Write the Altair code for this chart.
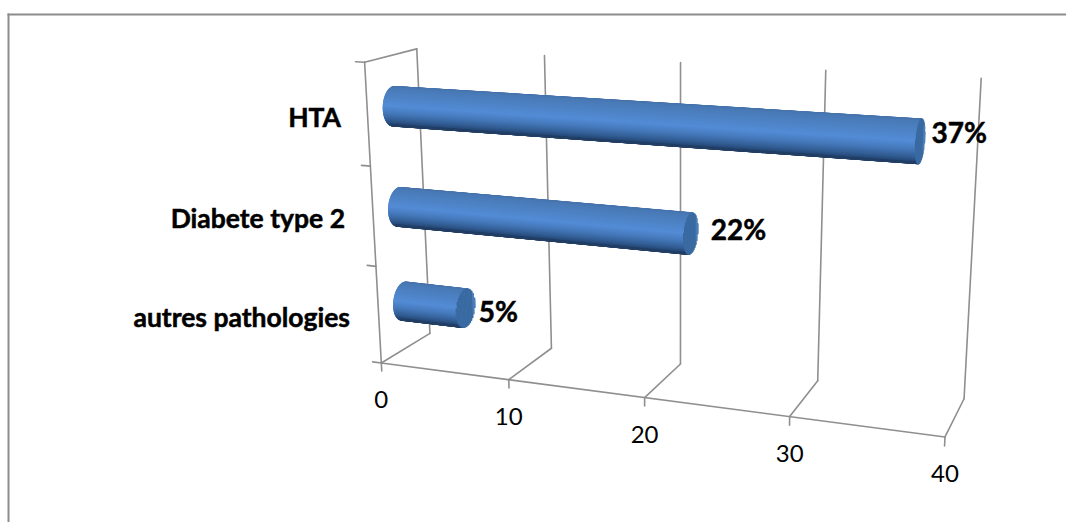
import altair as alt
import numpy as np
import pandas as pd

# Chart values
categories = ["HTA", "Diabete type 2", "autres pathologies"]
values = [37, 22, 5]
value_labels = ["37%", "22%", "5%"]
axis_ticks = [0, 10, 20, 30, 40]

WIDTH, HEIGHT = 1066, 522
FONT = "Lato"
GRID = "#8f8f8f"

# Camera calibration: box corners (value, depth, height) and their place on the page
camera_world = [
    (0, 0, 0), (10, 0, 0), (20, 0, 0), (30, 0, 0), (40, 0, 0),
    (0, 1, 0), (10, 1, 0), (20, 1, 0), (30, 1, 0), (40, 1, 0),
    (0, 1, 1), (10, 1, 1), (40, 1, 1), (0, 0, 1),
]
camera_page = [
    (381, 363), (509, 379), (645, 398), (790, 416), (945, 437),
    (430, 333), (551, 348), (681, 365), (817, 381), (964, 399),
    (417, 49), (545, 55), (981, 78), (364, 63),
]


def fit_camera(world, page):
    rows = []
    for (a, b, c), (u, v) in zip(world, page):
        rows.append([a, b, c, 1, 0, 0, 0, 0, -u * a, -u * b, -u * c, -u])
        rows.append([0, 0, 0, 0, a, b, c, 1, -v * a, -v * b, -v * c, -v])
    return np.linalg.svd(np.array(rows, float))[2][-1].reshape(3, 4)


CAM = fit_camera(camera_world, camera_page)


def project(v, d, h):
    p = CAM @ np.array([v, d, h, 1.0])
    return p[0] / p[2], p[1] / p[2]


def seg(v0, d0, h0, v1, d1, h1, color=GRID):
    x, y = project(v0, d0, h0)
    x2, y2 = project(v1, d1, h1)
    return {"x": x, "y": y, "x2": x2, "y2": y2, "color": color}


# Walls, floor and ticks of the 3D box
grid = [seg(0, 0, 0, 40, 0, 0), seg(0, 0, 0, 0, 0, 1), seg(0, 0, 1, 0, 1, 1)]
for t in axis_ticks:
    grid.append(seg(t, 0, 0, t, 1, 0))
    grid.append(seg(t, 1, 0, t, 1, 1))
    grid.append(seg(t, 0, 0, t, 0, -0.028))
for k in range(4):
    grid.append(seg(0, 0, k / 3, -0.7, 0, k / 3))
grid_df = pd.DataFrame(grid)

# Shading across the cylinder, by position between its upper and lower silhouette
shade_pos = [0.0, 0.05, 0.2, 0.5, 0.68, 0.84, 0.96, 1.0]
shade_rgb = [
    (70, 114, 170), (74, 122, 182), (76, 128, 192), (84, 140, 214),
    (70, 122, 188), (54, 98, 154), (40, 76, 124), (34, 62, 100),
]


def shade(t):
    rgb = [np.interp(t, shade_pos, [c[i] for c in shade_rgb]) for i in range(3)]
    return "#%02x%02x%02x" % tuple(int(round(c)) for c in rgb)


bar_heights = [5 / 6, 0.495, 1 / 6]
DEPTH_C, DEPTH_R, HEIGHT_R = 0.5, 0.2, 0.063
STRIPS = 90

strips, cap = [], []
for val, h0 in zip(values, bar_heights):
    # silhouette angle on the screen, measured at mid-length
    v_mid = val / 2
    xa, ya = project(v_mid, DEPTH_C + DEPTH_R, h0)
    xb, yb = project(v_mid, DEPTH_C, h0 + HEIGHT_R)
    xc, yc = project(v_mid, DEPTH_C, h0)
    alpha = np.arctan2(yc - yb, yc - ya)
    angles = np.linspace(alpha, alpha + np.pi, STRIPS)
    for i, th in enumerate(angles):
        d = DEPTH_C + DEPTH_R * np.cos(th)
        h = h0 + HEIGHT_R * np.sin(th)
        across = (1 - np.cos(np.pi * i / (STRIPS - 1))) / 2
        strips.append(seg(0, d, h, val, d, h, shade(across)))
    # End cap as a fan of chords in the height direction
    for c in np.linspace(-0.97, 0.97, 15):
        d = DEPTH_C + DEPTH_R * c
        dh = HEIGHT_R * np.sqrt(1 - c ** 2)
        col = "#4a7cb6" if c > 0.8 else "#3a6aa2"
        cap.append(seg(val, d, h0 - dh, val, d, h0 + dh, col))
bars_df = pd.DataFrame(strips + cap)

# Value labels next to the caps; nudges in pixels
label_nudge = [(7, 6), (13, 11), (4, 19)]
value_rows = []
for val, txt, h0, (dx, dy) in zip(values, value_labels, bar_heights, label_nudge):
    x, y = project(val, DEPTH_C + DEPTH_R, h0)
    value_rows.append({"x": x + dx, "y": y + dy, "text": txt})
value_df = pd.DataFrame(value_rows)

# Category labels sit left of the wall: right edge and baseline in pixels
cat_right = [341, 345, 350]
cat_base = [127, 228, 327]
cat_df = pd.DataFrame({"x": cat_right, "y": cat_base, "text": categories})

tick_rows = []
for t in axis_ticks:
    x, y = project(t, 0, 0)
    tick_rows.append({"x": x, "y": y + 45, "text": str(t)})
tick_df = pd.DataFrame(tick_rows)

# Only the top and left edges of the outer frame show on the page
frame_corners = [(1066, 14.5), (8.5, 14.5), (8.5, 522)]
frame_df = pd.DataFrame([
    {"x": a[0], "y": a[1], "x2": b[0], "y2": b[1], "color": "#8c8c8c"}
    for a, b in zip(frame_corners, frame_corners[1:])
])

xs = alt.X("x:Q", scale=alt.Scale(domain=[0, WIDTH], nice=False, zero=False), axis=None)
ys = alt.Y("y:Q", scale=alt.Scale(domain=[HEIGHT, 0], nice=False, zero=False), axis=None)


def rules(df, width, cap_style="round"):
    return alt.Chart(df).mark_rule(strokeWidth=width, strokeCap=cap_style).encode(
        x=xs, y=ys, x2="x2:Q", y2="y2:Q", color=alt.Color("color:N", scale=None, legend=None)
    )


def texts(df, size, bold, align):
    extra = {"stroke": "black", "strokeWidth": 0.5} if bold else {}
    return alt.Chart(df).mark_text(
        font=FONT, fontSize=size, fontWeight="bold" if bold else "normal",
        align=align, baseline="alphabetic", color="black", **extra,
    ).encode(x=xs, y=ys, text="text:N")


chart = alt.layer(
    rules(frame_df, 2, "square"),
    rules(grid_df, 1.6),
    rules(bars_df, 2.0),
    texts(cat_df, 26.5, True, "right"),
    texts(value_df, 28, True, "left"),
    texts(tick_df, 24, False, "center"),
).properties(
    width=WIDTH, height=HEIGHT, padding=0, autosize="none", background="white"
).configure_view(stroke=None)

chart.save("out.html", embed_options={"renderer": "svg", "actions": False})
